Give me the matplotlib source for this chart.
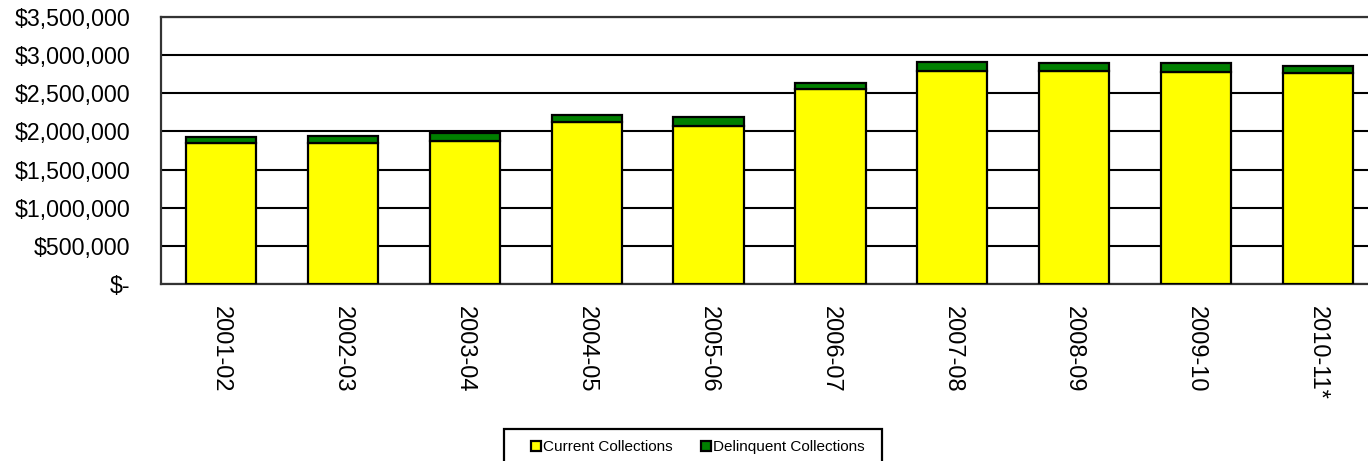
import matplotlib.pyplot as plt
import numpy as np
from matplotlib.patches import Rectangle
from matplotlib.ticker import FuncFormatter

plt.rcParams['font.family'] = ['Liberation Sans', 'DejaVu Sans']

years = ['2001-02', '2002-03', '2003-04', '2004-05', '2005-06',
         '2006-07', '2007-08', '2008-09', '2009-10', '2010-11*']
current = [1844000, 1845000, 1879000, 2128000, 2075000,
           2552000, 2796000, 2796000, 2779000, 2770000]
delinquent = [87000, 95000, 97000, 87000, 118000,
              87000, 118000, 97000, 122000, 85000]


def money(v, pos):
    if v == 0:
        return '$-'
    return '${:,.0f}'.format(v)


W, H = 1368, 461
fig = plt.figure(figsize=(W / 100, H / 100), dpi=100)
ax = fig.add_axes([161 / W, 1 - 284 / H, (1378 - 161) / W, (284 - 17) / H])

x = np.arange(len(years))
ax.bar(x, current, width=0.575, color='#FFFF00', edgecolor='black',
       linewidth=1.6, label='Current Collections', zorder=3)
ax.bar(x, delinquent, bottom=current, width=0.575, color='#008000',
       edgecolor='black', linewidth=1.6, label='Delinquent Collections', zorder=3)

ax.set_xlim(-0.49, len(years) - 0.51)
ax.set_ylim(0, 3500000)
ax.set_yticks(np.arange(0, 3500001, 500000))
ax.yaxis.set_major_formatter(FuncFormatter(money))
ax.grid(axis='y', color='black', linewidth=1.5, zorder=0)

ax.set_xticks(x)
ax.set_xticklabels(years, rotation=270, fontsize=17, va='top', ha='center')
ax.tick_params(axis='x', length=0, pad=16)
ax.tick_params(axis='y', length=0, pad=22, labelsize=16.7)

for s in ax.spines.values():
    s.set_color('#333333')
    s.set_linewidth(1.6)

# legend without frame, box drawn separately (it runs off the bottom edge)
fig.legend(loc='center left', bbox_to_anchor=(531 / W, 1 - 447 / H),
           ncol=2, fontsize=11, frameon=False,
           handlelength=0.65, handleheight=0.65, handletextpad=0.15,
           columnspacing=1.85, borderpad=0, borderaxespad=0)
fig.patches.append(Rectangle((504 / W, 1 - 475 / H), (882 - 504) / W, (475 - 429) / H,
                             transform=fig.transFigure, fill=False,
                             edgecolor='black', linewidth=1.6))

fig.savefig('out.png', dpi=100)
